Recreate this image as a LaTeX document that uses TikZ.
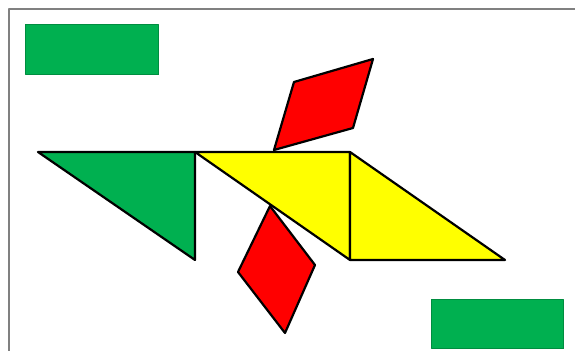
\documentclass[tikz,border=0pt]{standalone}
\usepackage{tikz}
\definecolor{tgreen}{RGB}{0,176,80}
\definecolor{tred}{RGB}{255,0,0}
\definecolor{tyellow}{RGB}{255,255,0}
\begin{document}
\begin{tikzpicture}[x=0.5pt, y=-0.5pt, line join=round, piece/.style={draw=black, line width=1.1pt}, block/.style={fill=tgreen, draw=tgreen!80!black, line width=0.5pt}]
 \useasboundingbox (0,0) rectangle (575,351);
 \draw[gray, line width=0.8pt] (9,351) -- (9,9) -- (575,9);
 \draw[block] (26,25) rectangle (159,75);
 \draw[block] (432,300) rectangle (564,349);
 \draw[piece, fill=tgreen] (38,152) -- (195,152) -- (195,260) -- cycle;
 \draw[piece, fill=tred] (274,150) -- (294,82) -- (373,59) -- (353,128) -- cycle;
 \draw[piece, fill=tred] (270,206) -- (315,265) -- (285,333) -- (238,272) -- cycle;
 \draw[piece, fill=tyellow] (195,152) -- (350,152) -- (350,260) -- cycle;
 \draw[piece, fill=tyellow] (350,152) -- (505,260) -- (350,260) -- cycle;
\end{tikzpicture}
\end{document}
